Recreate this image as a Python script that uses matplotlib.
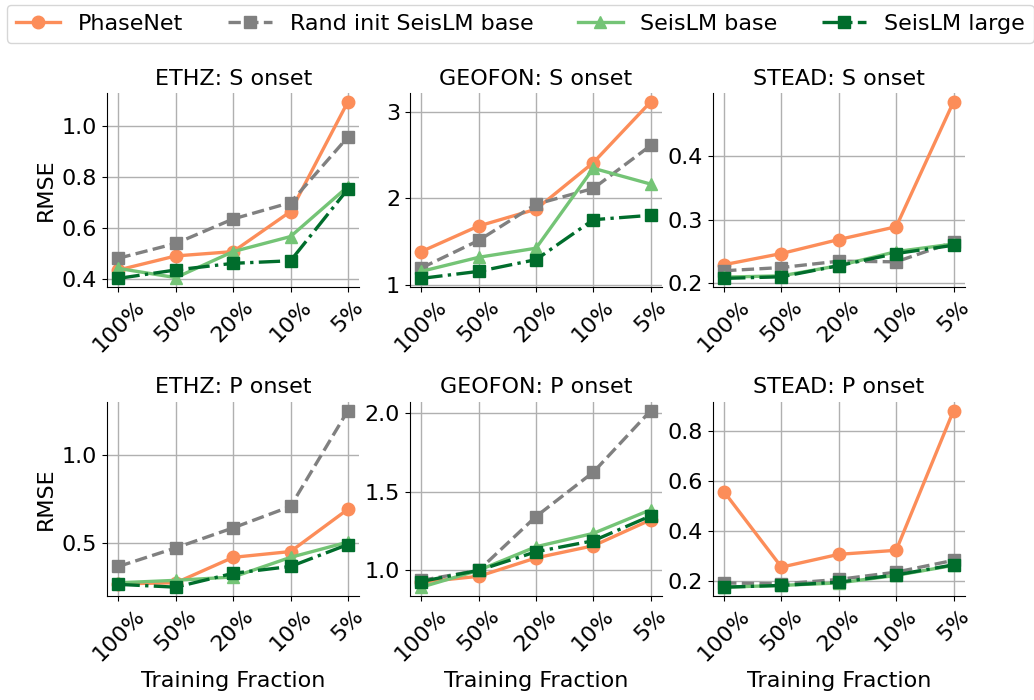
import matplotlib
matplotlib.use("Agg")
import matplotlib.pyplot as plt

fractions = ["100%", "50%", "20%", "10%", "5%"]
models = ["PhaseNet", "Rand init SeisLM base", "SeisLM base", "SeisLM large"]
titles = ["ETHZ: S onset", "GEOFON: S onset", "STEAD: S onset",
          "ETHZ: P onset", "GEOFON: P onset", "STEAD: P onset"]

ethz_s = {
    "PhaseNet": [0.437, 0.492, 0.509, 0.666, 1.096],
    "Rand init SeisLM base": [0.483, 0.541, 0.637, 0.701, 0.958],
    "SeisLM base": [0.443, 0.407, 0.509, 0.568, 0.764],
    "SeisLM large": [0.404, 0.437, 0.463, 0.473, 0.754],
}
geofon_s = {
    "PhaseNet": [1.384, 1.680, 1.874, 2.414, 3.117],
    "Rand init SeisLM base": [1.194, 1.513, 1.932, 2.115, 2.612],
    "SeisLM base": [1.155, 1.318, 1.423, 2.348, 2.165],
    "SeisLM large": [1.074, 1.155, 1.291, 1.753, 1.804],
}
stead_s = {
    "PhaseNet": [0.2295, 0.247, 0.269, 0.289, 0.485],
    "Rand init SeisLM base": [0.220, 0.225, 0.235, 0.234, 0.265],
    "SeisLM base": [0.210, 0.212, 0.228, 0.250, 0.262],
    "SeisLM large": [0.208, 0.2105, 0.228, 0.247, 0.260],
}
ethz_p = {
    "PhaseNet": [0.266, 0.272, 0.417, 0.450, 0.691],
    "Rand init SeisLM base": [0.365, 0.471, 0.585, 0.707, 1.253],
    "SeisLM base": [0.272, 0.286, 0.305, 0.417, 0.504],
    "SeisLM large": [0.263, 0.247, 0.326, 0.365, 0.490],
}
geofon_p = {
    "PhaseNet": [0.925, 0.962, 1.079, 1.156, 1.321],
    "Rand init SeisLM base": [0.936, 1.000, 1.342, 1.624, 2.015],
    "SeisLM base": [0.893, 1.000, 1.150, 1.235, 1.385],
    "SeisLM large": [0.929, 1.000, 1.118, 1.188, 1.346],
}
stead_p = {
    "PhaseNet": [0.556, 0.256, 0.307, 0.323, 0.880],
    "Rand init SeisLM base": [0.193, 0.189, 0.207, 0.236, 0.283],
    "SeisLM base": [0.176, 0.183, 0.193, 0.223, 0.263],
    "SeisLM large": [0.176, 0.183, 0.196, 0.225, 0.265],
}
panels = [ethz_s, geofon_s, stead_s, ethz_p, geofon_p, stead_p]

styles = {
    "PhaseNet": dict(color="#fc8d59", marker="o", linestyle="-"),
    "Rand init SeisLM base": dict(color="#808080", marker="s", linestyle="--"),
    "SeisLM base": dict(color="#74c476", marker="^", linestyle="-"),
    "SeisLM large": dict(color="#006d2c", marker="s", linestyle="-."),
}

plt.rcParams["font.size"] = 16
fig, axes = plt.subplots(2, 3, figsize=(10.34, 7.0), dpi=100)
fig.subplots_adjust(left=107/1034, right=965/1034, top=1-93/700, bottom=1-596/700,
                    wspace=0.2, hspace=0.59)

x = list(range(len(fractions)))
for i, (ax, data, title) in enumerate(zip(axes.flat, panels, titles)):
    for m in models:
        ax.plot(x, data[m], label=m, linewidth=2.4, markersize=9, **styles[m])
    ax.set_title(title, fontsize=16)
    ax.set_xticks(x)
    ax.set_xticklabels(fractions, rotation=45)
    ax.grid(True, color="#b0b0b0", linewidth=1.0)
    ax.set_axisbelow(True)
    ax.spines["top"].set_visible(False)
    ax.spines["right"].set_visible(False)
    if i % 3 == 0:
        ax.set_ylabel("RMSE")
    if i >= 3:
        ax.set_xlabel("Training Fraction")

handles, labels = axes.flat[0].get_legend_handles_labels()
fig.legend(handles, labels, loc="upper left", bbox_to_anchor=(7/1034, 1-5/700),
           ncol=4, fontsize=16, frameon=True, borderaxespad=0.0)

fig.savefig("out.png", dpi=100)
